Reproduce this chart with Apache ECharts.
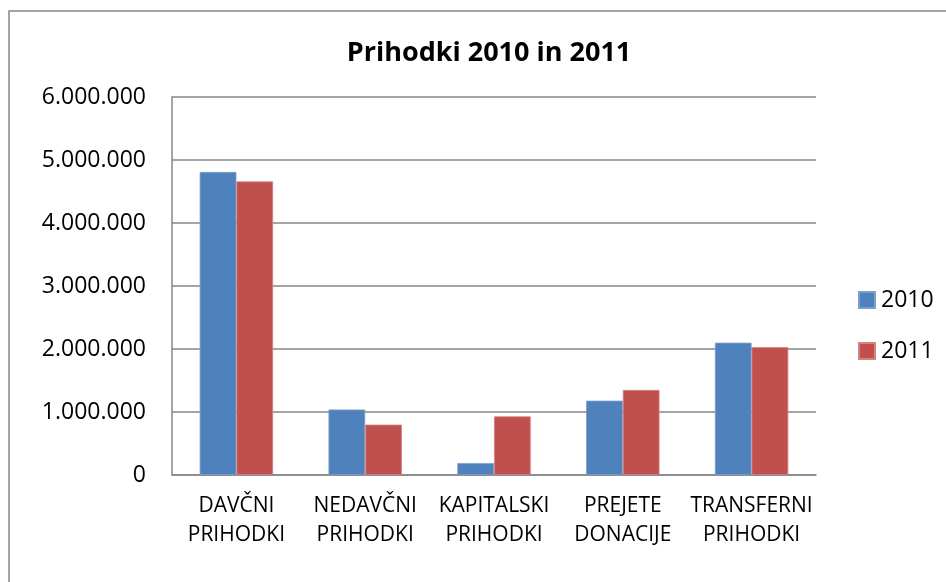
<!DOCTYPE html>
<html>
<head>
<meta charset="utf-8">
<script src="https://cdn.jsdelivr.net/npm/echarts@6/dist/echarts.min.js"></script>
<style>html,body{margin:0;padding:0;background:#fff}#c{width:946px;height:582px}</style>
</head>
<body>
<div id="c"></div>
<script>
const categories = ['DAVČNI\nPRIHODKI', 'NEDAVČNI\nPRIHODKI', 'KAPITALSKI\nPRIHODKI', 'PREJETE\nDONACIJE', 'TRANSFERNI\nPRIHODKI'];
const seriesNames = ['2010', '2011'];
const values2010 = [4810000, 1040000, 190000, 1180000, 2100000];
const values2011 = [4660000, 800000, 930000, 1350000, 2030000];
const yTicks = { min: 0, max: 6000000, interval: 1000000 };

const FONT = 'Open Sans';
function fmt(v) { return String(v).replace(/\B(?=(\d{3})+(?!\d))/g, '.'); }

const chart = echarts.init(document.getElementById('c'));
chart.setOption({
  animation: false,
  textStyle: { fontFamily: FONT },
  graphic: [{
    type: 'rect', silent: true,
    shape: { x: 9, y: 11, width: 1200, height: 1200 },
    style: { fill: 'none', stroke: '#868686', lineWidth: 1.5 }
  }],
  title: {
    text: 'Prihodki 2010 in 2011', left: 484, textAlign: 'center', top: 35,
    textStyle: { fontFamily: FONT, fontWeight: 'bold', fontSize: 27, color: '#000' }
  },
  legend: {
    orient: 'vertical', left: 853, top: 283, itemGap: 27,
    itemWidth: 16, itemHeight: 16, icon: 'rect',
    textStyle: { fontFamily: FONT, fontSize: 23, lineHeight: 24, color: '#000', padding: [0, 0, 0, 1] }
  },
  grid: { left: 172, right: 130, top: 97, bottom: 107, containLabel: false },
  xAxis: {
    type: 'category', data: categories,
    axisLine: { lineStyle: { color: '#868686', width: 1.5 } },
    axisTick: { show: false },
    axisLabel: { interval: 0, fontFamily: FONT, fontSize: 21, color: '#000', lineHeight: 29, margin: 17 }
  },
  yAxis: {
    type: 'value', min: yTicks.min, max: yTicks.max, interval: yTicks.interval,
    axisLine: { show: true, lineStyle: { color: '#868686', width: 1.5 } },
    axisTick: { show: false },
    splitLine: { lineStyle: { color: '#868686', width: 1.5 } },
    axisLabel: { fontFamily: FONT, fontSize: 23, color: '#000', margin: 26, formatter: fmt }
  },
  series: [
    { name: seriesNames[0], type: 'bar', data: values2010, barGap: '0%', barCategoryGap: '43%',
      itemStyle: { color: '#4F81BD', borderColor: '#7BA0CD', borderWidth: 0.8 } },
    { name: seriesNames[1], type: 'bar', data: values2011, barGap: '0%', barCategoryGap: '43%',
      itemStyle: { color: '#C0504D', borderColor: '#D38482', borderWidth: 0.8 } }
  ]
});
</script>
</body>
</html>
